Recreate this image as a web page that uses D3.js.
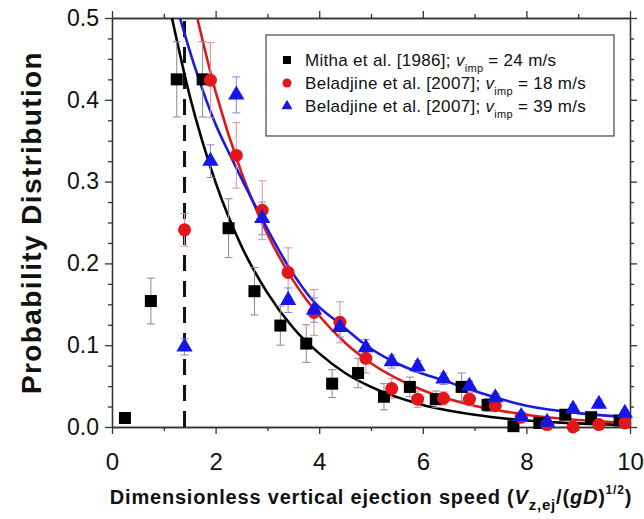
<!DOCTYPE html>
<html>
<head>
<meta charset="utf-8">
<script src="https://cdn.jsdelivr.net/npm/d3@7"></script>
<style>
body { margin: 0; background: #fff; }
text { font-family: "Liberation Sans", Arial, sans-serif; fill: #111; }
</style>
</head>
<body>
<div id="chart"></div>
<script>
// Mitha et al. [1986], v_imp = 24 m/s
const mithaX = [0.25, 0.75, 1.25, 1.75, 2.25, 2.75, 3.25, 3.75, 4.25, 4.75, 5.25, 5.75, 6.25, 6.75, 7.25, 7.75, 8.25, 8.75, 9.25, 9.8];
const mithaY = [0.011, 0.154, 0.425, 0.425, 0.243, 0.166, 0.124, 0.102, 0.053, 0.066, 0.037, 0.049, 0.034, 0.049, 0.027, 0.001, 0.005, 0.015, 0.012, 0.008];
const mithaErr = [0, 0.028, 0.046, 0.046, 0.036, 0.029, 0.024, 0.023, 0.017, 0.018, 0.016, 0.012, 0.01, 0.017, 0.008, 0.005, 0.004, 0.005, 0.004, 0.004];

// Beladjine et al. [2007], v_imp = 18 m/s
const bel18X = [1.4, 1.9, 2.4, 2.9, 3.4, 3.9, 4.4, 4.9, 5.4, 5.9, 6.4, 6.9, 7.4, 7.9, 8.4, 8.9, 9.4, 9.9];
const bel18Y = [0.241, 0.424, 0.332, 0.265, 0.189, 0.14, 0.128, 0.084, 0.047, 0.034, 0.035, 0.034, 0.026, 0.012, 0.003, 0.0, 0.003, 0.005];
const bel18Err = [0.02, 0.046, 0.04, 0.036, 0.03, 0.028, 0.025, 0.018, 0.012, 0.01, 0.008, 0.008, 0.007, 0.005, 0.004, 0.004, 0.004, 0.004];

// Beladjine et al. [2007], v_imp = 39 m/s
const bel39X = [1.4, 1.9, 2.4, 2.9, 3.4, 3.9, 4.4, 4.9, 5.4, 5.9, 6.4, 6.9, 7.4, 7.9, 8.4, 8.9, 9.4, 9.9];
const bel39Y = [0.098, 0.325, 0.406, 0.255, 0.155, 0.143, 0.122, 0.097, 0.080, 0.074, 0.059, 0.050, 0.036, 0.013, 0.006, 0.022, 0.028, 0.017];
const bel39Err = [0.01, 0.02, 0.022, 0.02, 0.015, 0.015, 0.012, 0.01, 0.008, 0.007, 0.007, 0.006, 0.005, 0.004, 0.004, 0.005, 0.005, 0.004];

// fitted curves
const fitBlackX = [1.05, 1.5, 2, 2.5, 3, 3.5, 4, 4.5, 5, 6, 7, 8, 9, 10];
const fitBlackY = [0.532, 0.405, 0.299, 0.221, 0.164, 0.121, 0.090, 0.066, 0.049, 0.027, 0.015, 0.008, 0.0044, 0.0024];
const fitRedX = [1.55, 2, 2.5, 3, 3.5, 4, 4.5, 5, 6, 7, 8, 9, 10];
const fitRedY = [0.526, 0.410, 0.311, 0.236, 0.179, 0.136, 0.103, 0.078, 0.045, 0.026, 0.015, 0.0085, 0.0049];
const fitBlueX = [1.22, 1.6, 2, 2.32, 2.9, 3.4, 3.9, 4.4, 4.9, 5.4, 6, 6.4, 7, 8, 9, 10];
const fitBlueY = [0.52, 0.44, 0.37, 0.327, 0.254, 0.197, 0.153, 0.126, 0.100, 0.081, 0.065, 0.057, 0.044, 0.026, 0.017, 0.012];

const cutoffX = 1.4;

const xTicks = [0, 2, 4, 6, 8, 10];
const xMinorTicks = [1, 3, 5, 7, 9];
const yTicks = [0, 0.1, 0.2, 0.3, 0.4, 0.5];
const yMinorTicks = [0.025, 0.05, 0.075, 0.125, 0.15, 0.175, 0.225, 0.25, 0.275, 0.325, 0.35, 0.375, 0.425, 0.45, 0.475];

const W = 644, H = 519;
const plotLeft = 112, plotRight = 630, plotTop = 18, plotBottom = 427;

const svg = d3.select("#chart").append("svg")
    .attr("width", W)
    .attr("height", H);

const x = d3.scaleLinear().domain([0, 10]).range([plotLeft, plotRight]);
const y = d3.scaleLinear().domain([0, 0.5]).range([plotBottom, plotTop]);

svg.append("clipPath").attr("id", "plot")
    .append("rect")
    .attr("x", plotLeft).attr("y", plotTop)
    .attr("width", plotRight - plotLeft).attr("height", plotBottom - plotTop);

// axes (ticks outward on all four sides)
function styleAxis(g) {
    g.select(".domain").attr("stroke", "#333").attr("stroke-width", 1.3);
    g.selectAll(".tick line").attr("stroke", "#333").attr("stroke-width", 1.3);
}

svg.append("g").attr("transform", `translate(0,${plotBottom})`)
    .call(d3.axisBottom(x).tickValues(xMinorTicks).tickSize(4).tickSizeOuter(0).tickFormat(""))
    .call(styleAxis);
svg.append("g").attr("transform", `translate(0,${plotBottom})`)
    .call(d3.axisBottom(x).tickValues(xTicks).tickSize(7).tickSizeOuter(0).tickPadding(19).tickFormat(d3.format("d")))
    .call(styleAxis)
    .selectAll("text").attr("font-size", 24).attr("fill", "#111");
svg.append("g").attr("transform", `translate(0,${plotTop})`)
    .call(d3.axisTop(x).tickValues(xMinorTicks).tickSize(4).tickSizeOuter(0).tickFormat(""))
    .call(styleAxis);
svg.append("g").attr("transform", `translate(0,${plotTop})`)
    .call(d3.axisTop(x).tickValues(xTicks).tickSize(7).tickSizeOuter(0).tickFormat(""))
    .call(styleAxis);

svg.append("g").attr("transform", `translate(${plotLeft},0)`)
    .call(d3.axisLeft(y).tickValues(yMinorTicks).tickSize(4).tickSizeOuter(0).tickFormat(""))
    .call(styleAxis);
svg.append("g").attr("transform", `translate(${plotLeft},0)`)
    .call(d3.axisLeft(y).tickValues(yTicks).tickSize(7).tickSizeOuter(0).tickPadding(6).tickFormat(d3.format(".1f")))
    .call(styleAxis)
    .selectAll("text").attr("font-size", 23).attr("fill", "#111");
svg.append("g").attr("transform", `translate(${plotRight},0)`)
    .call(d3.axisRight(y).tickValues(yMinorTicks).tickSize(4).tickSizeOuter(0).tickFormat(""))
    .call(styleAxis);
svg.append("g").attr("transform", `translate(${plotRight},0)`)
    .call(d3.axisRight(y).tickValues(yTicks).tickSize(7).tickSizeOuter(0).tickFormat(""))
    .call(styleAxis);

// axis titles
svg.append("text")
    .attr("transform", `translate(41,${(plotTop + plotBottom) / 2}) rotate(-90)`)
    .attr("text-anchor", "middle")
    .attr("font-size", 28)
    .attr("letter-spacing", 1.4)
    .attr("font-weight", "bold")
    .text("Probability Distribution");

const xt = svg.append("text")
    .attr("x", 371).attr("y", 504)
    .attr("text-anchor", "middle")
    .attr("font-size", 20)
    .attr("letter-spacing", 0.8)
    .attr("font-weight", "bold");
xt.append("tspan").text("Dimensionless vertical ejection speed (");
xt.append("tspan").attr("font-style", "italic").text("V");
xt.append("tspan").attr("font-size", 15).attr("dy", 6).text("z,ej");
xt.append("tspan").attr("dy", -6).text("/(");
xt.append("tspan").attr("font-style", "italic").text("gD");
xt.append("tspan").text(")");
xt.append("tspan").attr("font-size", 12).attr("dy", -10).text("1/2");
xt.append("tspan").attr("dy", 10).text(")");

// dashed cut-off line
svg.append("line")
    .attr("x1", x(cutoffX)).attr("x2", x(cutoffX))
    .attr("y1", y(0)).attr("y2", y(0.5))
    .attr("stroke", "#111")
    .attr("stroke-width", 3)
    .attr("stroke-dasharray", "16,10");

const series = [
    { xs: mithaX, ys: mithaY, err: mithaErr, color: "#000", errColor: "#8a8a8a", shape: "square",
      fx: fitBlackX, fy: fitBlackY, line: "#000" },
    { xs: bel18X, ys: bel18Y, err: bel18Err, color: "#e3171b", errColor: "#de9090", shape: "circle",
      fx: fitRedX, fy: fitRedY, line: "#dc1a1a" },
    { xs: bel39X, ys: bel39Y, err: bel39Err, color: "#1616e8", errColor: "#8787dd", shape: "triangle",
      fx: fitBlueX, fy: fitBlueY, line: "#1a1ae0" }
];

const lineGen = d3.line()
    .x(d => x(d[0]))
    .y(d => y(d[1]))
    .curve(d3.curveMonotoneX);

const plotG = svg.append("g").attr("clip-path", "url(#plot)");

// error bars
series.forEach(s => {
    const pts = s.xs.map((v, i) => ({ x: v, y: s.ys[i], e: s.err[i] })).filter(d => d.e > 0);
    const g = svg.append("g").attr("stroke", s.errColor).attr("stroke-width", 1);
    g.selectAll(".eb").data(pts).enter().append("line")
        .attr("x1", d => x(d.x)).attr("x2", d => x(d.x))
        .attr("y1", d => y(d.y - d.e)).attr("y2", d => y(d.y + d.e));
    g.selectAll(".capT").data(pts).enter().append("line")
        .attr("x1", d => x(d.x) - 4).attr("x2", d => x(d.x) + 4)
        .attr("y1", d => y(d.y + d.e)).attr("y2", d => y(d.y + d.e));
    g.selectAll(".capB").data(pts).enter().append("line")
        .attr("x1", d => x(d.x) - 4).attr("x2", d => x(d.x) + 4)
        .attr("y1", d => y(d.y - d.e)).attr("y2", d => y(d.y - d.e));
});

// fitted curves
series.forEach(s => {
    plotG.append("path")
        .datum(s.fx.map((v, i) => [v, s.fy[i]]))
        .attr("fill", "none")
        .attr("stroke", s.line)
        .attr("stroke-width", 2.6)
        .attr("d", lineGen);
});

// markers
function drawMarker(g, shape, size) {
    if (shape === "square") {
        g.append("rect").attr("x", -size / 2).attr("y", -size / 2).attr("width", size).attr("height", size);
    } else if (shape === "circle") {
        g.append("circle").attr("r", size / 2 + 0.5);
    } else {
        g.append("path").attr("d", d3.symbol().type(d3.symbolTriangle).size(size * size * 0.8)());
    }
}

series.forEach(s => {
    const g = svg.append("g").attr("fill", s.color);
    s.xs.forEach((v, i) => {
        const m = g.append("g").attr("transform", `translate(${x(v)},${y(s.ys[i])})`);
        drawMarker(m, s.shape, 12);
    });
});

// legend
const legend = svg.append("g");
legend.append("rect")
    .attr("x", 266).attr("y", 35)
    .attr("width", 348).attr("height", 101)
    .attr("fill", "#fff")
    .attr("stroke", "#444")
    .attr("stroke-width", 1.2);

const legendLabels = [
    ["Mitha et al. [1986]; ", " = 24 m/s"],
    ["Beladjine et al. [2007]; ", " = 18 m/s"],
    ["Beladjine et al. [2007]; ", " = 39 m/s"]
];

series.forEach((s, i) => {
    const ry = 60 + i * 23;
    const m = legend.append("g").attr("fill", s.color).attr("transform", `translate(287,${ry})`);
    drawMarker(m, s.shape, 8);
    const t = legend.append("text").attr("x", 305).attr("y", ry + 6)
        .attr("font-size", 17).attr("letter-spacing", 0.3);
    t.append("tspan").text(legendLabels[i][0]);
    t.append("tspan").attr("font-style", "italic").text("v");
    t.append("tspan").attr("font-size", 11).attr("dy", 6).text("imp");
    t.append("tspan").attr("dy", -6).text(legendLabels[i][1]);
});
</script>
</body>
</html>
